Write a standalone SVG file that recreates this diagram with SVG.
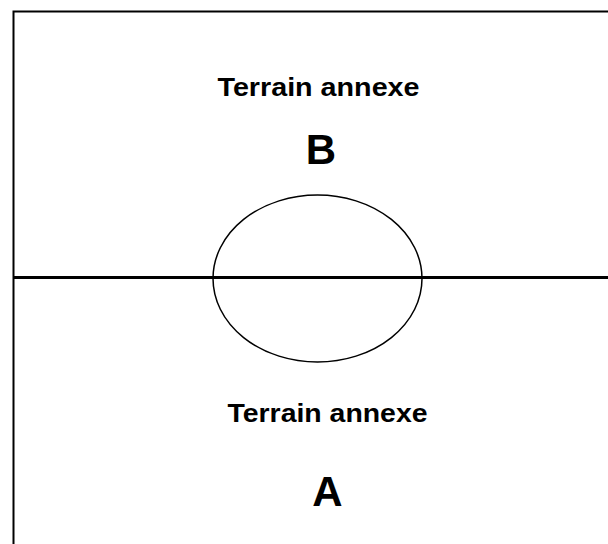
<svg xmlns="http://www.w3.org/2000/svg" width="608" height="544" viewBox="0 0 608 544">
<style>
.lbl{font-family:"Liberation Sans",Arial,sans-serif;font-weight:bold;fill:#000;text-anchor:middle}
.t{font-size:26.5px}
.big{font-size:42px}
</style>
<rect width="608" height="544" fill="#fff"/>
<g id="field">
<rect x="13.5" y="11.5" width="620" height="560" fill="none" stroke="#000" stroke-width="2"/>
</g>
<g id="connectors">
<line x1="13.5" y1="277.5" x2="608" y2="277.5" stroke="#000" stroke-width="3"/>
</g>
<g id="circle">
<ellipse cx="317.5" cy="278.5" rx="104.5" ry="83.5" fill="none" stroke="#000" stroke-width="1.5"/>
</g>
<g id="zoneB">
<text class="lbl t" x="318.5" y="96" textLength="202" lengthAdjust="spacingAndGlyphs">Terrain annexe</text>
<text class="lbl big" x="321" y="164">B</text>
</g>
<g id="zoneA">
<text class="lbl t" x="327.5" y="422" textLength="200" lengthAdjust="spacingAndGlyphs">Terrain annexe</text>
<text class="lbl big" x="327.5" y="506">A</text>
</g>
</svg>
